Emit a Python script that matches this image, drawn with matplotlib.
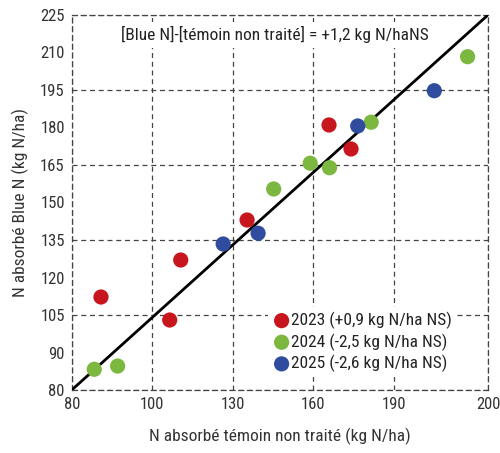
import matplotlib
matplotlib.use("Agg")
import matplotlib.pyplot as plt
from matplotlib.ticker import FixedLocator

plt.rcParams['font.family'] = ['Roboto Condensed', 'Barlow Semi Condensed', 'Archivo Narrow',
                               'PT Sans Narrow', 'DejaVu Sans']

# N absorbé (kg N/ha), témoin non traité (x) vs Blue N (y)
x_2023 = [80.9, 106.5, 110.6, 135.3, 165.8, 174.0]
y_2023 = [112.2, 103.0, 127.0, 143.0, 181.0, 171.4]
x_2024 = [78.4, 87.1, 145.2, 158.8, 166.0, 181.5, 217.4]
y_2024 = [83.3, 84.6, 155.4, 165.7, 163.9, 182.1, 208.3]
x_2025 = [126.4, 139.4, 176.5, 205.0]
y_2025 = [133.4, 137.7, 180.6, 194.7]

labels = ['2023 (+0,9 kg N/ha NS)', '2024 (-2,5 kg N/ha NS)', '2025 (-2,6 kg N/ha NS)']
colors = ['#c8161e', '#7cb740', '#2f4c9f']

line_x = [70, 225]
line_y = [75, 225]

xticks = [70, 100, 130, 160, 190, 225]
xticklabels = ['80', '100', '130', '160', '190', '200']
yticks_major = [75, 105, 135, 165, 195, 225]
yticklabels_major = ['80', '105', '135', '165', '195', '225']
yticks_minor = [90, 120, 150, 180, 210]
yticklabels_minor = ['90', '120', '150', '180', '210']

fig = plt.figure(figsize=(5, 4.53), dpi=100)
ax = fig.add_axes([0.1434, 0.139, 0.8326, 0.828])

ax.plot(line_x, line_y, color='black', lw=2, zorder=3)
for xs, ys, c, lab in zip([x_2023, x_2024, x_2025], [y_2023, y_2024, y_2025], colors, labels):
    ax.scatter(xs, ys, s=120, color=c, edgecolors='none', label=lab, zorder=4)

ax.set_xlim(70, 225)
ax.set_ylim(75, 225)
ax.set_xticks(xticks)
ax.set_xticklabels(xticklabels)
ax.yaxis.set_major_locator(FixedLocator(yticks_major))
ax.set_yticklabels(yticklabels_major)
ax.yaxis.set_minor_locator(FixedLocator(yticks_minor))
ax.set_yticklabels(yticklabels_minor, minor=True)
ax.tick_params(which='both', length=0, labelsize=12, colors='#333333', pad=5)

ax.grid(True, which='major', color='#444444', linestyle=(0, (4, 3)), lw=0.9)
for sp in ax.spines.values():
    sp.set_linestyle((0, (4, 3)))
    sp.set_color('#444444')
    sp.set_linewidth(0.9)

ax.text(0.488, 0.947, '[Blue N]-[témoin non traité] = +1,2 kg N/haNS', transform=ax.transAxes,
        ha='center', va='center', fontsize=12.5, color='#222222',
        bbox=dict(facecolor='white', edgecolor='none', pad=3), zorder=5)

ax.set_xlabel('N absorbé témoin non traité (kg N/ha)', fontsize=12.5, color='#333333', labelpad=11)
ax.set_ylabel('N absorbé Blue N (kg N/ha)', fontsize=12.5, color='#333333', labelpad=8)

leg = ax.legend(loc='center left', bbox_to_anchor=(0.45, 0.128), frameon=True, fontsize=12.5,
                handletextpad=0.05, labelspacing=0.25, borderpad=0.3, handlelength=1.0,
                markerscale=1.0)
leg.get_frame().set_facecolor('white')
leg.get_frame().set_edgecolor('none')
leg.get_frame().set_alpha(1)
for t in leg.get_texts():
    t.set_color('#222222')

fig.savefig('out.png', dpi=100)
